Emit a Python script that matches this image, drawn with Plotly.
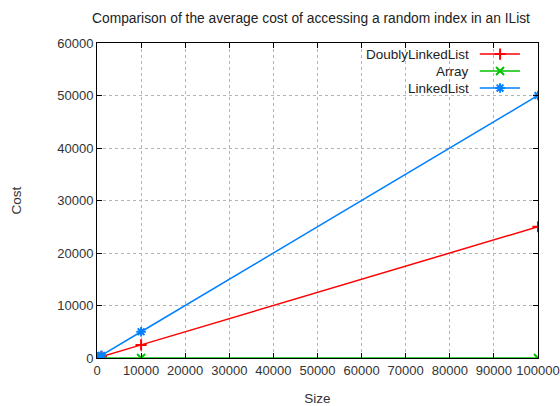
import plotly.graph_objects as go

sizes = [10, 100, 1000, 10000, 100000]
doubly_linked = [2.5, 25, 250, 2500, 25000]
array_cost = [1, 1, 1, 1, 1]
linked_list = [5, 50, 500, 5000, 50000]

series_names = ["DoublyLinkedList", "Array", "LinkedList"]
series_colors = ["#ff0000", "#00c000", "#0080ff"]
series_symbols = ["cross-thin-open", "x-thin-open", "asterisk-open"]
series_values = [doubly_linked, array_cost, linked_list]

x_ticks = list(range(0, 100001, 10000))
y_ticks = list(range(0, 60001, 10000))

FONT = "Liberation Sans, Arial, sans-serif"

fig = go.Figure()
for name, col, sym, vals in zip(series_names, series_colors, series_symbols, series_values):
    fig.add_trace(go.Scatter(
        x=sizes, y=vals, mode="lines+markers", name=name,
        line=dict(color=col, width=1.5),
        marker=dict(symbol=sym, size=8, color=col, line=dict(color=col, width=2)),
        showlegend=False,
    ))

# opaque key area (gnuplot style)
fig.add_shape(type="rect", xref="paper", yref="paper", x0=0.544, x1=0.998, y0=0.829, y1=0.998,
              fillcolor="white", line=dict(width=0), layer="between")

# custom gnuplot-style legend (text left, sample right)
leg_y = [0.965, 0.911, 0.857]
for i, (name, col, sym) in enumerate(zip(series_names, series_colors, series_symbols)):
    fig.add_trace(go.Scatter(
        x=[0.868, 0.959], y=[leg_y[i]] * 2, xaxis="x2", yaxis="y2",
        mode="lines", line=dict(color=col, width=1.5),
        showlegend=False, hoverinfo="skip",
    ))
    fig.add_trace(go.Scatter(
        x=[0.914], y=[leg_y[i]], xaxis="x2", yaxis="y2",
        mode="markers",
        marker=dict(symbol=sym, size=8, color=col, line=dict(color=col, width=2)),
        showlegend=False, hoverinfo="skip",
    ))
    fig.add_annotation(x=0.848, y=leg_y[i], xref="paper", yref="paper", text=name,
                       showarrow=False, xanchor="right", yanchor="middle",
                       font=dict(family=FONT, size=13.5, color="#222"))

axis_common = dict(
    showline=True, linecolor="black", linewidth=1, mirror="ticks",
    ticks="inside", ticklen=5, tickcolor="black",
    showgrid=True, gridcolor="#b4b4b4", griddash="dot", gridwidth=1,
    zeroline=False, automargin=False,
    tickfont=dict(family=FONT, size=13, color="#333"),
)

fig.update_layout(
    width=560, height=406,
    margin=dict(l=97, r=22, t=43, b=48, autoexpand=False),
    paper_bgcolor="white", plot_bgcolor="white",
    title=dict(text="Comparison of the average cost of accessing a random index in an IList",
               x=311 / 560, xanchor="center", y=1 - 18 / 406, yanchor="middle",
               font=dict(family=FONT, size=13.8, color="#222")),
    xaxis=dict(range=[0, 100000], tickvals=x_ticks, ticktext=[str(v) for v in x_ticks],
               title=dict(text="Size", font=dict(family=FONT, size=13.5, color="#333"), standoff=16),
               **axis_common),
    yaxis=dict(range=[0, 60000], tickvals=y_ticks, ticktext=[str(v) for v in y_ticks],
               title=dict(text="Cost", font=dict(family=FONT, size=13.5, color="#333"), standoff=32),
               **axis_common),
    xaxis2=dict(overlaying="x", range=[0, 1], visible=False, fixedrange=True, automargin=False),
    yaxis2=dict(overlaying="y", range=[0, 1], visible=False, fixedrange=True, automargin=False),
)

fig.write_html("out.html", config={"displayModeBar": False},
               post_script="document.body.style.margin='0';document.body.style.overflow='hidden';")
